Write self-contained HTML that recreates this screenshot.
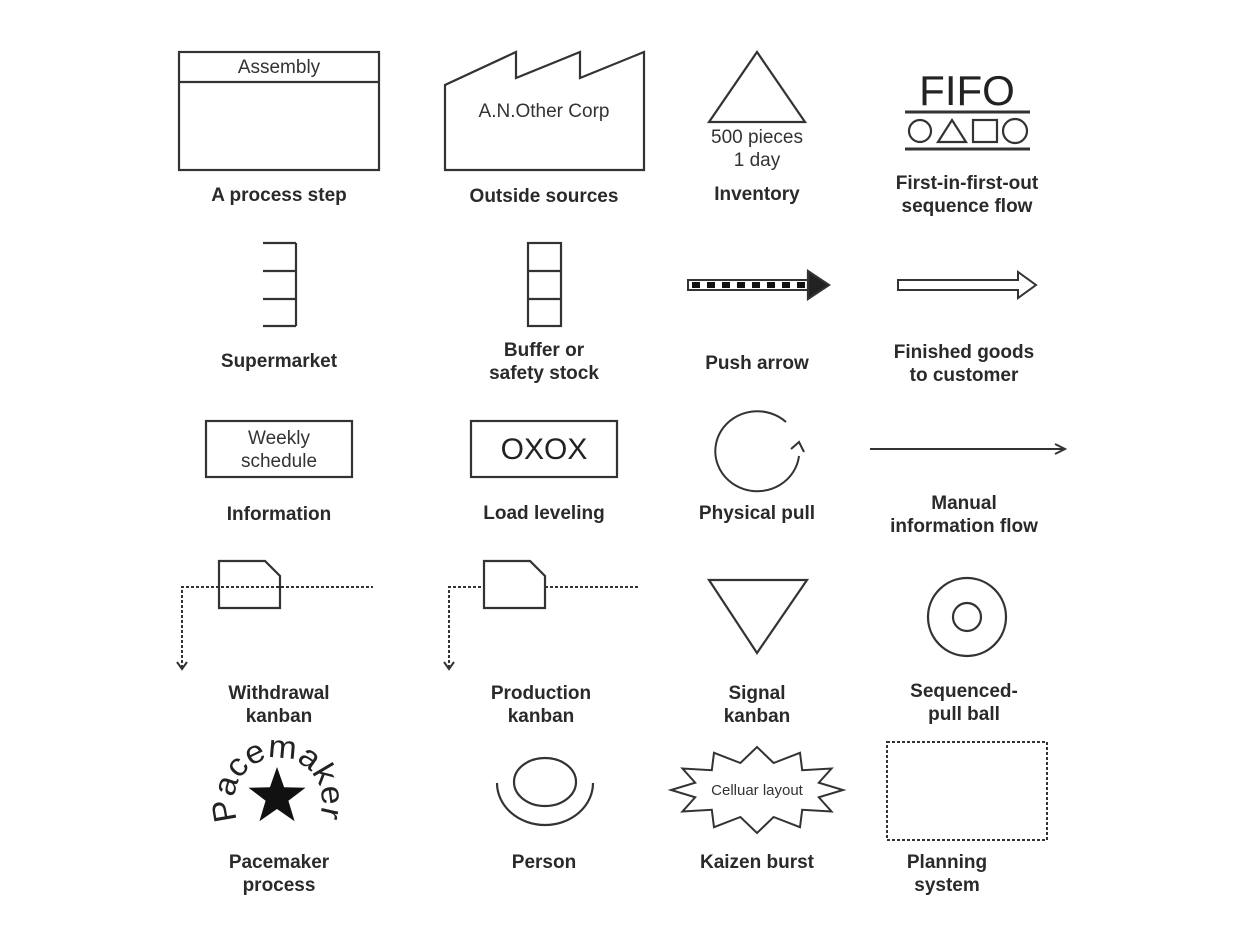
<!DOCTYPE html>
<html><head><meta charset="utf-8"><style>
html,body{margin:0;padding:0;background:#fff;}
svg{display:block;}
.l{font-family:"Liberation Sans",sans-serif;font-weight:bold;font-size:19px;fill:#2a2a2a;text-anchor:middle;}
.t{font-family:"Liberation Sans",sans-serif;font-size:19px;fill:#333;text-anchor:middle;}
</style></head><body>
<svg width="1240" height="932" viewBox="0 0 1240 932" xmlns="http://www.w3.org/2000/svg">
<g fill="none" stroke="#333" stroke-width="2.2">
<rect x="179" y="52" width="200" height="118"/>
<line x1="179" y1="82" x2="379" y2="82"/>
<polygon points="445,170 445,85 516,52 516,78 580,52 580,78 644,52 644,170"/>
<polygon points="709,122 757,52 805,122"/>
<line x1="905" y1="112" x2="1030" y2="112" stroke-width="3"/>
<line x1="905" y1="149" x2="1030" y2="149" stroke-width="3"/>
<circle cx="920" cy="131" r="11"/>
<polygon points="938,142 952,120 966,142"/>
<rect x="973" y="120" width="24" height="22"/>
<circle cx="1015" cy="131" r="12"/>
<line x1="296" y1="243" x2="296" y2="326"/>
<line x1="263" y1="243" x2="296" y2="243"/>
<line x1="263" y1="271" x2="296" y2="271"/>
<line x1="263" y1="299" x2="296" y2="299"/>
<line x1="263" y1="326" x2="296" y2="326"/>
<rect x="528" y="243" width="33" height="83"/>
<line x1="528" y1="271" x2="561" y2="271"/>
<line x1="528" y1="299" x2="561" y2="299"/>
<rect x="688" y="280" width="122" height="10" stroke-width="2"/>
<line x1="692" y1="285" x2="808" y2="285" stroke="#111" stroke-width="6" stroke-dasharray="8,7"/>
<polygon points="808,271 829,285 808,299" fill="#222"/>
<polygon points="898,280 1018,280 1018,272 1036,285 1018,298 1018,290 898,290" stroke-width="2"/>
<rect x="206" y="421" width="146" height="56"/>
<rect x="471" y="421" width="146" height="56"/>
<path d="M786,422 A42,40 0 1,0 799,456" stroke-width="2"/>
<polyline points="791,449 799,442 804,452" stroke-width="2"/>
<line x1="870" y1="449" x2="1063" y2="449" stroke-width="2"/>
<polyline points="1055,444 1065,449 1055,454" stroke-width="2"/>
<path d="M182,668 L182,587 L373,587" stroke-dasharray="3,2" stroke-width="2"/>
<polyline points="177,662 182,669 187,662" stroke-width="2"/>
<polygon points="219,561 265,561 280,576 280,608 219,608" fill="none"/>
<path d="M449,668 L449,587 L484,587 M545,587 L638,587" stroke-dasharray="3,2" stroke-width="2"/>
<polyline points="444,662 449,669 454,662" stroke-width="2"/>
<polygon points="484,561 530,561 545,576 545,608 484,608"/>
<polygon points="709,580 807,580 757,653"/>
<circle cx="967" cy="617" r="39"/>
<circle cx="967" cy="617" r="14"/>
<ellipse cx="545" cy="782" rx="31" ry="24"/>
<path d="M497,783 A48,42 0 0,0 593,783"/>
<polygon points="843,790 818.8,797.3 831.5,811.5 802.2,809.8 800,827.2 773.6,817 757,833 740.4,817 714,827.2 711.8,809.8 682.5,811.5 695.2,797.3 671,790 695.2,782.7 682.5,768.5 711.8,770.2 714,752.8 740.4,763 757,747 773.6,763 800,752.8 802.2,770.2 831.5,768.5 818.8,782.7" stroke-width="2"/>
<rect x="887" y="742" width="160" height="98" stroke-dasharray="3,2" stroke-width="2"/>
</g>
<polygon points="277,767 284.1,787.3 305.5,787.7 288.4,800.7 294.6,821.3 277,809 259.4,821.3 265.6,800.7 248.5,787.7 269.9,787.3" fill="#111"/>
<defs><path id="arc" d="M238,820 A44,44 0 1,1 318,820"/></defs>
<text font-family="Liberation Sans,sans-serif" font-size="32" fill="#222"><textPath href="#arc" textLength="172" lengthAdjust="spacingAndGlyphs">Pacemaker</textPath></text>

<text class="t" x="279" y="73">Assembly</text>
<text class="t" x="544" y="117">A.N.Other Corp</text>
<text class="t" x="757" y="143">500 pieces</text>
<text class="t" x="757" y="166">1 day</text>
<text font-family="Liberation Sans,sans-serif" font-size="42" fill="#222" text-anchor="middle" x="967" y="105">FIFO</text>
<text class="t" x="279" y="444">Weekly</text>
<text class="t" x="279" y="467">schedule</text>
<text font-family="Liberation Sans,sans-serif" font-size="30" fill="#222" text-anchor="middle" x="544" y="459">OXOX</text>
<text font-family="Liberation Sans,sans-serif" font-size="15" fill="#333" text-anchor="middle" x="757" y="795">Celluar layout</text>

<text class="l" x="279" y="201">A process step</text>
<text class="l" x="544" y="202">Outside sources</text>
<text class="l" x="757" y="200">Inventory</text>
<text class="l" x="967" y="189">First-in-first-out</text>
<text class="l" x="967" y="212">sequence flow</text>
<text class="l" x="279" y="367">Supermarket</text>
<text class="l" x="544" y="356">Buffer or</text>
<text class="l" x="544" y="379">safety stock</text>
<text class="l" x="757" y="369">Push arrow</text>
<text class="l" x="964" y="358">Finished goods</text>
<text class="l" x="964" y="381">to customer</text>
<text class="l" x="279" y="520">Information</text>
<text class="l" x="544" y="519">Load leveling</text>
<text class="l" x="757" y="519">Physical pull</text>
<text class="l" x="964" y="509">Manual</text>
<text class="l" x="964" y="532">information flow</text>
<text class="l" x="279" y="699">Withdrawal</text>
<text class="l" x="279" y="722">kanban</text>
<text class="l" x="541" y="699">Production</text>
<text class="l" x="541" y="722">kanban</text>
<text class="l" x="757" y="699">Signal</text>
<text class="l" x="757" y="722">kanban</text>
<text class="l" x="964" y="697">Sequenced-</text>
<text class="l" x="964" y="720">pull ball</text>
<text class="l" x="279" y="868">Pacemaker</text>
<text class="l" x="279" y="891">process</text>
<text class="l" x="544" y="868">Person</text>
<text class="l" x="757" y="868">Kaizen burst</text>
<text class="l" x="947" y="868">Planning</text>
<text class="l" x="947" y="891">system</text>
</svg>
</body></html>
